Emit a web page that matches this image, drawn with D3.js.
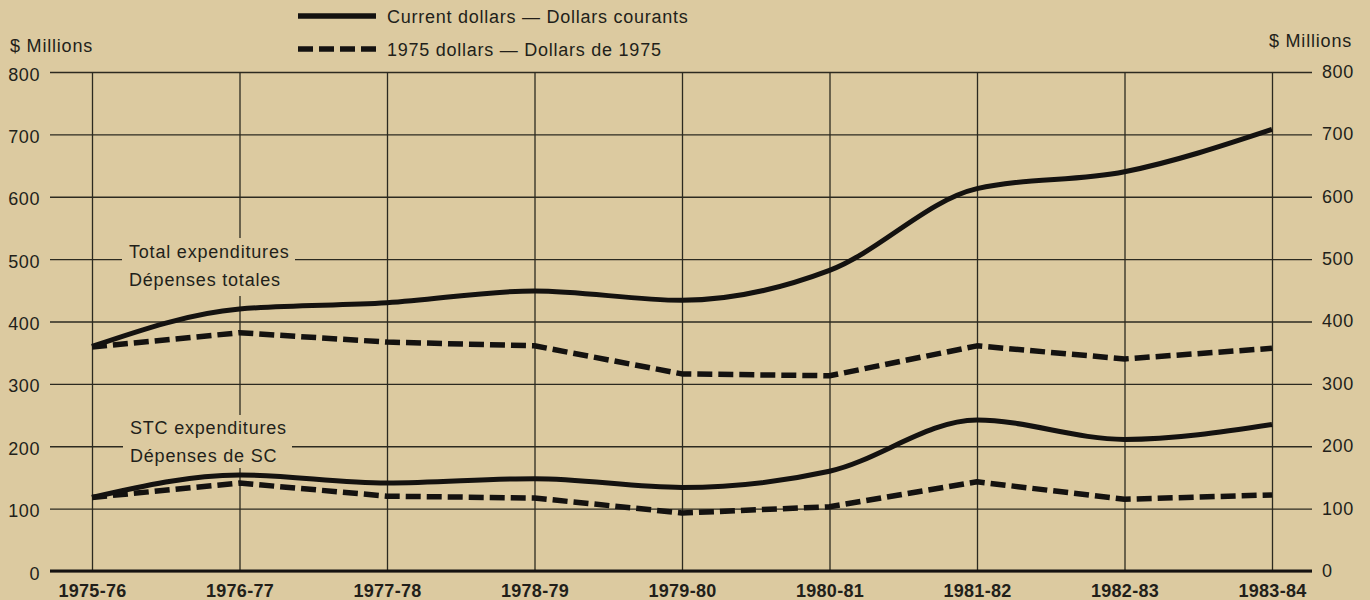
<!DOCTYPE html>
<html>
<head>
<meta charset="utf-8">
<script src="https://cdn.jsdelivr.net/npm/d3@7"></script>
<style>
  html, body { margin: 0; padding: 0; background: #dccaa0; }
  svg { display: block; }
  text { font-family: "Liberation Sans", Arial, Helvetica, sans-serif; fill: #221f1a; }
</style>
</head>
<body>
<svg id="chart" width="1370" height="600"></svg>
<script>
// Fiscal years on the horizontal axis
const years = ["1975-76", "1976-77", "1977-78", "1978-79", "1979-80", "1980-81", "1981-82", "1982-83", "1983-84"];

// Total expenditures, $ millions
const totalCurrent = [360, 420, 430, 449, 434, 482, 613, 640, 708];
const total1975    = [359, 382, 367, 361, 316, 313, 361, 340, 357];

// STC expenditures, $ millions
const stcCurrent = [118, 154, 141, 148, 134, 160, 242, 211, 235];
const stc1975    = [118, 141, 120, 117,  93, 103, 143, 115, 122];

// Value axis ticks
const yTicks = [0, 100, 200, 300, 400, 500, 600, 700, 800];

const legendItems = [
  { label: "Current dollars — Dollars courants", dashed: false },
  { label: "1975 dollars — Dollars de 1975", dashed: true }
];

const BG = "#dccaa0";
const INK = "#141210";
const GRID = "#2c2a20";
const DASH = "15,6";

const svg = d3.select("#chart");

const gridLeft = 50, gridRight = 1312;
const x = d3.scalePoint().domain(years).range([92, 1272]);
const y = d3.scaleLinear().domain([0, 800]).range([571, 72]);

// Horizontal grid lines with left-hand value labels
const leftAxis = svg.append("g")
  .attr("transform", `translate(${gridLeft},0)`)
  .call(d3.axisLeft(y).tickValues(yTicks).tickSize(-(gridRight - gridLeft)).tickPadding(10));
leftAxis.select(".domain").remove();
leftAxis.selectAll(".tick line").attr("stroke", GRID).attr("stroke-width", 1.3);
leftAxis.selectAll(".tick text")
  .attr("font-size", 18).attr("dy", "0.45em").attr("fill", "#221f1a")
  .style("letter-spacing", "0.6px");

// Right-hand value labels
const rightAxis = svg.append("g")
  .attr("transform", `translate(${gridRight},0)`)
  .call(d3.axisRight(y).tickValues(yTicks).tickSize(0).tickPadding(10));
rightAxis.select(".domain").remove();
rightAxis.selectAll(".tick text")
  .attr("font-size", 18).attr("dy", "0.3em").attr("fill", "#221f1a")
  .style("letter-spacing", "0.6px");

// Vertical grid lines with bold year labels
const bottomAxis = svg.append("g")
  .attr("transform", `translate(0,${y(0)})`)
  .call(d3.axisBottom(x).tickSize(-(y(0) - y(800))).tickPadding(13));
bottomAxis.select(".domain").remove();
bottomAxis.selectAll(".tick line").attr("stroke", GRID).attr("stroke-width", 1.3);
bottomAxis.selectAll(".tick text")
  .attr("font-size", 18).attr("font-weight", "bold").attr("fill", "#1a1814")
  .style("letter-spacing", "0.3px");

// Heavy zero baseline
svg.append("line")
  .attr("x1", gridLeft).attr("x2", gridRight)
  .attr("y1", y(0)).attr("y2", y(0))
  .attr("stroke", INK).attr("stroke-width", 3);

// Axis unit titles
svg.append("text").attr("x", 10).attr("y", 52)
  .attr("font-size", 18).style("letter-spacing", "0.8px").text("$ Millions");
svg.append("text").attr("x", 1352).attr("y", 47).attr("text-anchor", "end")
  .attr("font-size", 18).style("letter-spacing", "0.8px").text("$ Millions");

// Group captions, set on a patch of background that interrupts the grid
const captions = [
  { lines: ["Total expenditures", "Dépenses totales"], x: 129, y: 258, box: [122, 238, 295, 296] },
  { lines: ["STC expenditures", "Dépenses de SC"], x: 130, y: 434, box: [123, 415, 292, 468] }
];
captions.forEach(c => {
  svg.append("rect")
    .attr("x", c.box[0]).attr("y", c.box[1])
    .attr("width", c.box[2] - c.box[0]).attr("height", c.box[3] - c.box[1])
    .attr("fill", BG);
  c.lines.forEach((t, i) => {
    svg.append("text").attr("x", c.x).attr("y", c.y + i * 28)
      .attr("font-size", 18).style("letter-spacing", "0.8px").text(t);
  });
});

// Series lines: current dollars drawn as smooth curves, 1975 dollars as straight dashed segments
const smooth = d3.line().x((d, i) => x(years[i])).y(d => y(d)).curve(d3.curveMonotoneX);
const straight = d3.line().x((d, i) => x(years[i])).y(d => y(d)).curve(d3.curveLinear);

const series = [
  { values: total1975, dashed: true },
  { values: stc1975, dashed: true },
  { values: totalCurrent, dashed: false },
  { values: stcCurrent, dashed: false }
];
svg.append("g").selectAll("path")
  .data(series)
  .join("path")
  .attr("d", s => (s.dashed ? straight : smooth)(s.values))
  .attr("fill", "none")
  .attr("stroke", INK)
  .attr("stroke-width", s => s.dashed ? 5.5 : 5)
  .attr("stroke-linejoin", "round")
  .attr("stroke-dasharray", s => s.dashed ? DASH : null);

// Legend
const legend = svg.append("g");
legendItems.forEach((item, i) => {
  const ly = 16 + i * 33;
  legend.append("line")
    .attr("x1", 298).attr("x2", 376).attr("y1", ly).attr("y2", ly)
    .attr("stroke", INK).attr("stroke-width", 5.5)
    .attr("stroke-dasharray", item.dashed ? DASH : null);
  legend.append("text")
    .attr("x", 387).attr("y", ly + 7)
    .attr("font-size", 18).style("letter-spacing", "0.75px")
    .text(item.label);
});
</script>
</body>
</html>
